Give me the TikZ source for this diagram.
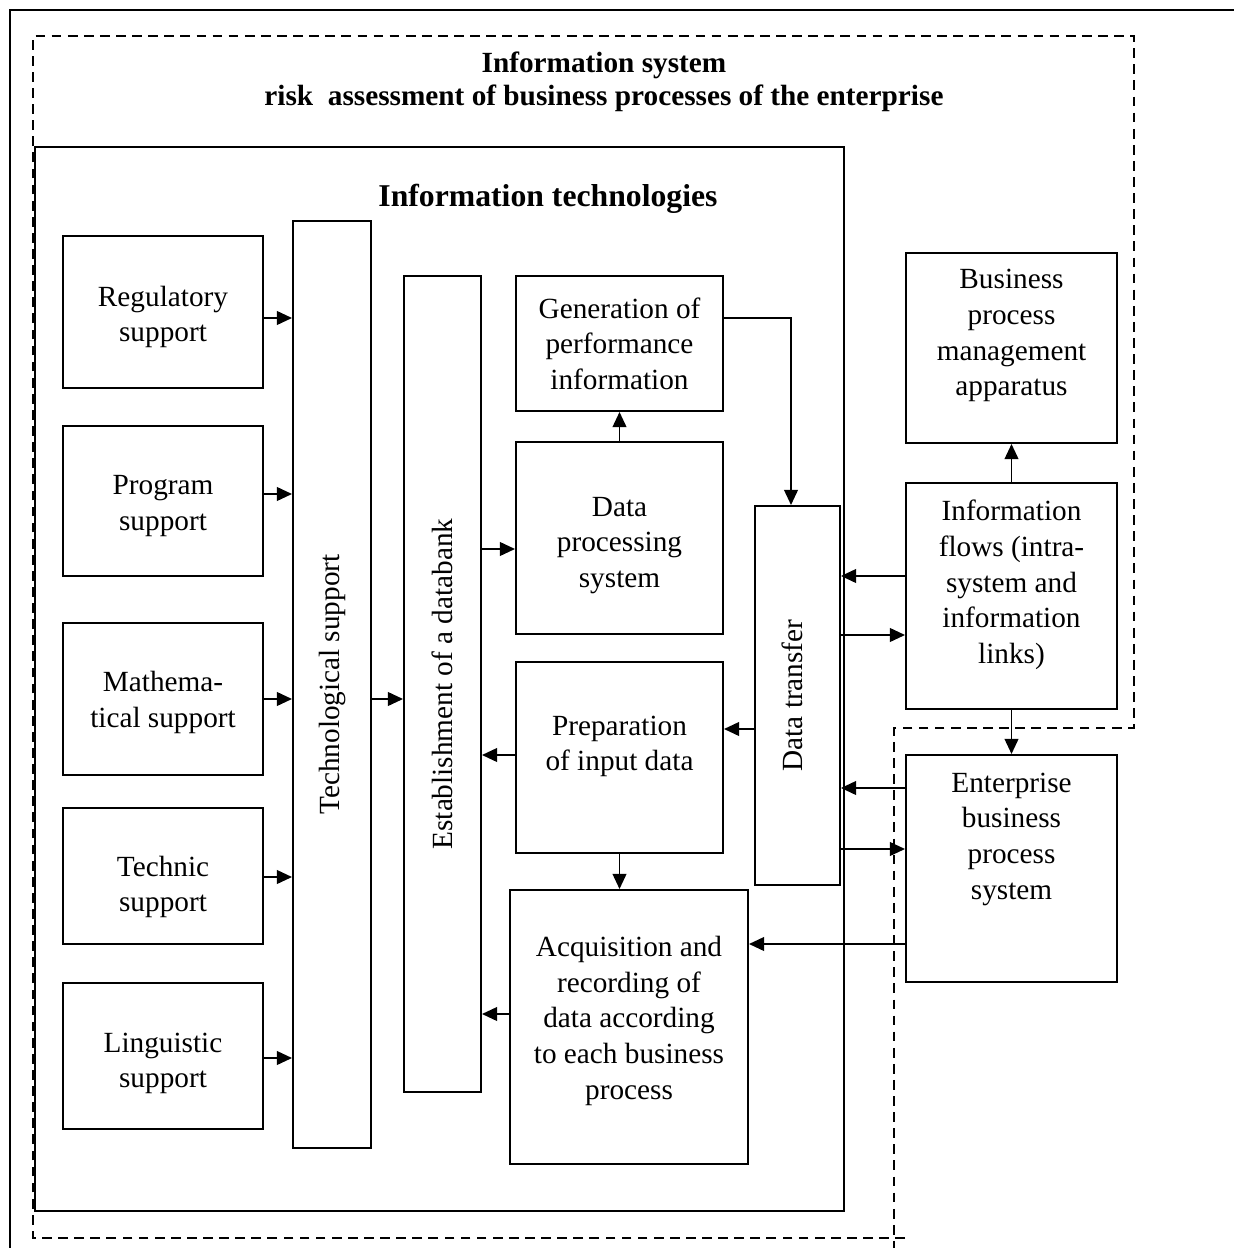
\documentclass[tikz,border=0pt]{standalone}
\usepackage{fontspec}
\setmainfont{Liberation Serif}
\usetikzlibrary{arrows.meta,fit}
\begin{document}
\begin{tikzpicture}[x=0.41pt,y=-0.41pt,line width=0.8pt]
\tikzstyle{box}=[draw,rectangle,inner sep=0pt,line width=0.8pt]
\tikzstyle{txt}=[align=center,inner sep=0pt,font=\fontsize{12}{14.6}\selectfont]
\tikzstyle{arr}=[-{Triangle[length=6.2pt,width=5.6pt]}]
\tikzstyle{frame}=[dashed,dash pattern=on 4pt off 2.6pt]
\path[use as bounding box,clip] (0,0) rectangle (1234,1248);
\draw (10,10) rectangle (1260,1270);
\draw[frame] (905,1238) -- (33,1238) -- (33,36) -- (1134,36) -- (1134,728) -- (894,728) -- (894,1260);
\node[txt,font=\bfseries\fontsize{12}{13.5}\selectfont] (title) at (604,82) {Information system\\risk\ \ assessment of business processes of the enterprise};
\node[box,fit={(35,147) (844,1211)}] (itframe) {};
\node[font=\bfseries\fontsize{13}{15}\selectfont] (ittitle) at (548,199) {Information technologies};
% kinds of support
\node[box,fit={(63,236) (263,388)},label={[txt,yshift=-2pt]center:Regulatory\\support}] (regsup) {};
\node[box,fit={(63,426) (263,576)},label={[txt,yshift=-2pt]center:Program\\support}] (progsup) {};
\node[box,fit={(63,623) (263,775)},label={[txt,yshift=-1.5pt]center:Mathema-\\tical support}] (mathsup) {};
\node[box,fit={(63,808) (263,944)},label={[txt,yshift=-4.5pt]center:Technic\\support}] (techsup) {};
\node[box,fit={(63,983) (263,1129)},label={[txt,yshift=-3pt]center:Linguistic\\support}] (lingsup) {};
\node[box,fit={(293,221) (371,1148)},label={[txt,rotate=90]center:Technological support}] (techno) {};
\node[box,fit={(404,276) (481,1092)},label={[txt,rotate=90]center:Establishment of a databank}] (databank) {};
% processing
\node[box,fit={(516,276) (723,411)},label={[txt]center:Generation of\\performance\\information}] (gener) {};
\node[box,fit={(516,442) (723,634)},label={[txt,yshift=-3pt]center:Data\\processing\\system}] (dataproc) {};
\node[box,fit={(516,662) (723,853)},label={[txt,yshift=4.5pt]center:Preparation\\of input data}] (prep) {};
\node[box,fit={(510,890) (748,1164)},label={[txt,yshift=2.5pt]center:Acquisition and\\recording of\\data according\\to each business\\process}] (acquis) {};
\node[box,fit={(755,506) (840,885)},label={[txt,rotate=90,yshift=2pt]center:Data transfer}] (transfer) {};
% outside
\node[box,fit={(906,253) (1117,443)},label={[txt,yshift=5pt]center:Business\\process\\management\\apparatus}] (bpm) {};
\node[box,fit={(906,483) (1117,709)},label={[txt,yshift=4.5pt]center:Information\\flows (intra-\\system and\\information\\links)}] (flows) {};
\node[box,fit={(906,755) (1117,982)},label={[txt,yshift=12pt]center:Enterprise\\business\\process\\system}] (enterp) {};
% arrows
\draw[arr] (regsup.east |- 0,318) -- (techno.west |- 0,318);
\draw[arr] (progsup.east |- 0,494) -- (techno.west |- 0,494);
\draw[arr] (mathsup.east |- 0,699) -- (techno.west |- 0,699);
\draw[arr] (techsup.east |- 0,877) -- (techno.west |- 0,877);
\draw[arr] (lingsup.east |- 0,1058) -- (techno.west |- 0,1058);
\draw[arr] (techno.east |- 0,699) -- (databank.west |- 0,699);
\draw[arr] (databank.east |- 0,549) -- (dataproc.west |- 0,549);
\draw[arr] (dataproc.north) -- (gener.south);
\draw[arr] (gener.east |- 0,318) -| (791,0 |- transfer.north);
\draw[arr] (transfer.west |- 0,729) -- (prep.east |- 0,729);
\draw[arr] (prep.west |- 0,755) -- (databank.east |- 0,755);
\draw[arr] (prep.south) -- (acquis.north -| prep.south);
\draw[arr] (acquis.west |- 0,1014) -- (databank.east |- 0,1014);
\draw[arr] (enterp.west |- 0,944) -- (acquis.east |- 0,944);
\draw[arr] (flows.west |- 0,576) -- (transfer.east |- 0,576);
\draw[arr] (transfer.east |- 0,635) -- (flows.west |- 0,635);
\draw[arr] (enterp.west |- 0,788) -- (transfer.east |- 0,788);
\draw[arr] (transfer.east |- 0,849) -- (enterp.west |- 0,849);
\draw[arr] (flows.north) -- (bpm.south);
\draw[arr] (flows.south) -- (enterp.north);
\end{tikzpicture}
\end{document}
